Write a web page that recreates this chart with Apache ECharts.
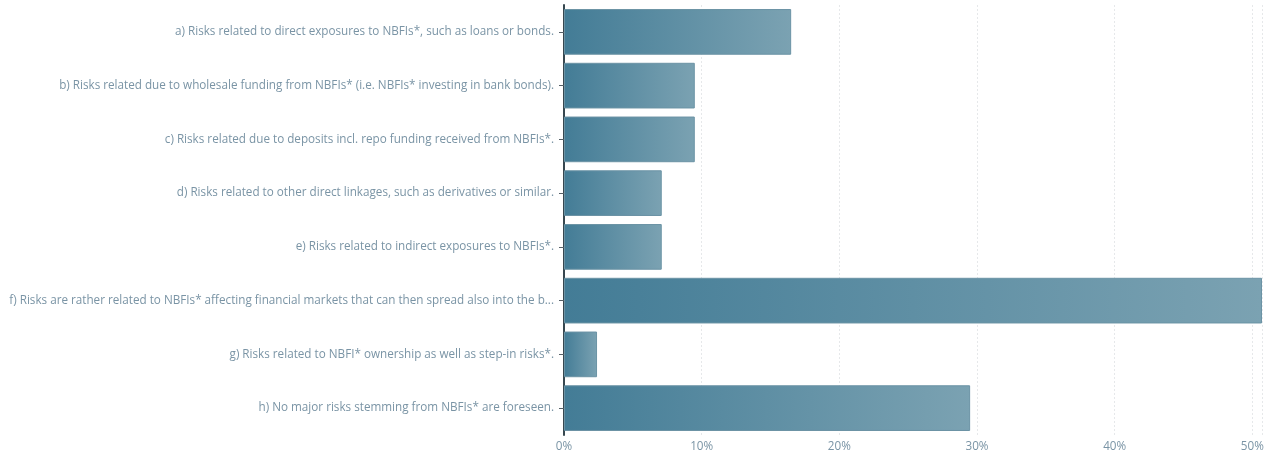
<!DOCTYPE html>
<html>
<head>
<meta charset="utf-8">
<script src="https://cdn.jsdelivr.net/npm/echarts@6/dist/echarts.min.js"></script>
<style>
  html, body { margin: 0; padding: 0; background: #fff; }
  #chart { width: 1271px; height: 455px; }
</style>
</head>
<body>
<div id="chart"></div>
<script>
// Survey answers: sources of NBFI-related risk (share of respondents, %)
const categories = [
  'a) Risks related to direct exposures to NBFIs*, such as loans or bonds.',
  'b) Risks related due to wholesale funding from NBFIs* (i.e. NBFIs* investing in bank bonds).',
  'c) Risks related due to deposits incl. repo funding received from NBFIs*.',
  'd) Risks related to other direct linkages, such as derivatives or similar.',
  'e) Risks related to indirect exposures to NBFIs*.',
  'f) Risks are rather related to NBFIs* affecting financial markets that can then spread also into the banking sector.',
  'g) Risks related to NBFI* ownership as well as step-in risks*.',
  'h) No major risks stemming from NBFIs* are foreseen.'
];
const shares = [16.5, 9.5, 9.5, 7.1, 7.1, 50.7, 2.4, 29.5];
const tickStep = 10;

const fontFamily = '"Open Sans", "Noto Sans", sans-serif';
const labelColor = '#7a94a5';

const chart = echarts.init(document.getElementById('chart'), null, { renderer: 'canvas' });

chart.setOption({
  animation: false,
  grid: { left: 564, right: 9, top: 5, bottom: 20, containLabel: false },
  xAxis: {
    type: 'value',
    min: 0,
    max: 'dataMax',
    interval: tickStep,
    axisLine: { show: false },
    axisTick: { show: false },
    axisLabel: {
      color: labelColor,
      fontFamily: fontFamily,
      fontSize: 11.7,
      margin: 6,
      formatter: v => v + '%',
      showMaxLabel: false
    },
    splitLine: { show: true, lineStyle: { color: '#e6e8ea', type: [2, 2], width: 1 } }
  },
  yAxis: {
    type: 'category',
    data: categories,
    inverse: true,
    axisLine: { show: true, lineStyle: { color: '#37474f', width: 2 } },
    axisTick: { show: true, alignWithLabel: true, length: 5, lineStyle: { color: '#555f66', width: 1 } },
    axisLabel: {
      color: labelColor,
      fontFamily: fontFamily,
      fontSize: 11.7,
      margin: 10,
      width: 548,
      overflow: 'truncate',
      ellipsis: '...'
    }
  },
  series: [{
    type: 'bar',
    data: shares,
    barCategoryGap: '15%',
    itemStyle: {
      color: new echarts.graphic.LinearGradient(0, 0, 1, 0, [
        { offset: 0, color: '#437c96' },
        { offset: 1, color: '#7ba2b2' }
      ]),
      borderColor: '#6b93a5',
      borderWidth: 1
    }
  }]
});
</script>
</body>
</html>
